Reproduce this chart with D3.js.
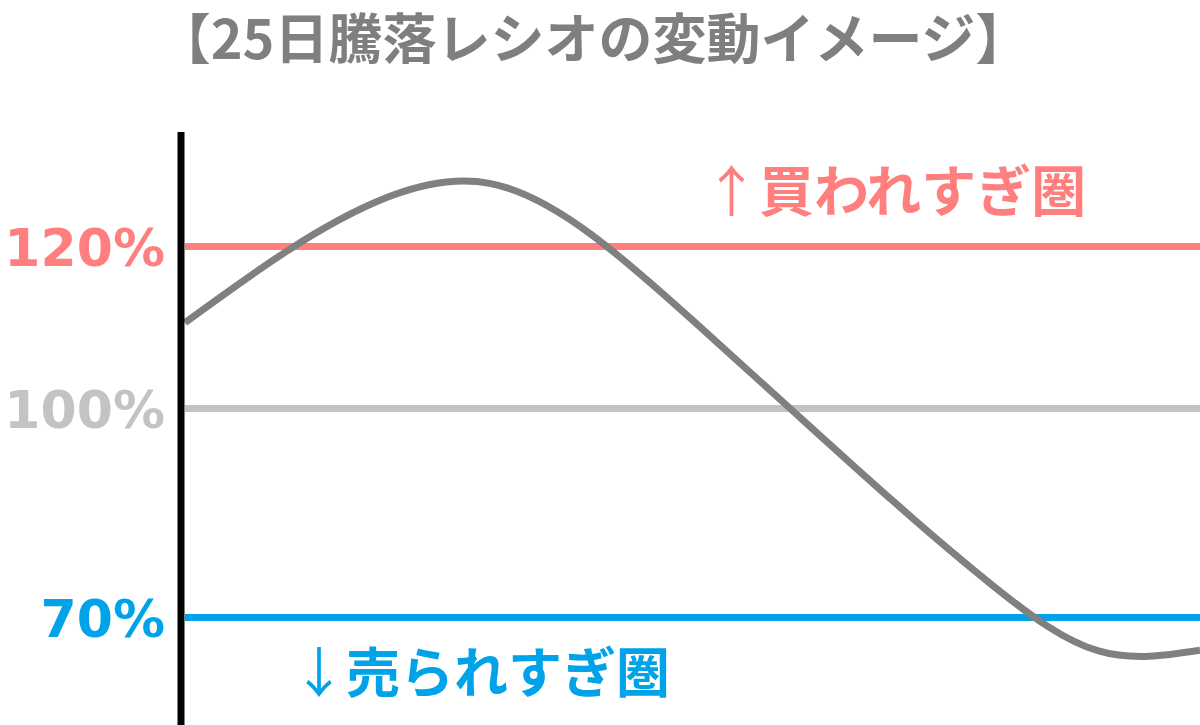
<!DOCTYPE html>
<html><head><meta charset="utf-8">
<script src="https://cdn.jsdelivr.net/npm/d3@7"></script>
<style>html,body{margin:0;padding:0;background:#fff;}svg{display:block;}</style>
</head><body>
<svg id="chart" width="1200" height="725"></svg>
<script>
// ---- data ----
const title = "【25日騰落レシオの変動イメージ】";
const levels = [120, 100, 70];
const levelLabels = ["120%", "100%", "70%"];
const levelColors = ["#FF7F7F", "#C3C3C3", "#00A3E8"];
// curve (time index 0..100, ratio %)
const curveT = [0, 10, 20, 30, 40, 50, 60, 70, 80, 90, 100];
const curveV = [110.6, 119.4, 126.1, 127.8, 121.5, 110.9, 99.5, 86.4, 74.1, 65.2, 65.3];
const zoneLabels = ["↑買われすぎ圏", "↓売られすぎ圏"];

const svg = d3.select("#chart");
const W = 1200, H = 725;
const x = d3.scaleLinear().domain([0, 100]).range([185, 1200]);
const y = d3.scaleLinear().domain([70, 100, 120]).range([617.5, 408.5, 246.5]);

const font = "'Noto Sans CJK JP', 'Noto Sans', sans-serif";

// title
svg.append("text")
  .attr("x", 593).attr("y", 59)
  .attr("text-anchor", "middle")
  .attr("font-family", font).attr("font-weight", "bold")
  .attr("font-size", 54).attr("fill", "#7F7F7F")
  .text(title);

// level lines
svg.selectAll("line.level").data(levels).join("line")
  .attr("class", "level")
  .attr("x1", x(0)).attr("x2", x(100))
  .attr("y1", d => y(d)).attr("y2", d => y(d))
  .attr("stroke", (d, i) => levelColors[i])
  .attr("stroke-width", 7);

// level labels
svg.selectAll("text.lvl").data(levels).join("text")
  .attr("class", "lvl")
  .attr("x", 165).attr("y", d => y(d) + 19)
  .attr("text-anchor", "end")
  .attr("font-family", "'DejaVu Sans', Verdana, sans-serif")
  .attr("font-weight", "bold").attr("font-size", 52)
  .attr("fill", (d, i) => levelColors[i])
  .text((d, i) => levelLabels[i]);

// curve
const pts = curveT.map((t, i) => [t, curveV[i]]);
svg.append("path")
  .datum(pts)
  .attr("fill", "none")
  .attr("stroke", "#808080")
  .attr("stroke-width", 7)
  .attr("d", d3.line().x(d => x(d[0])).y(d => y(d[1])).curve(d3.curveNatural));

// axis line
svg.append("line")
  .attr("x1", 181).attr("x2", 181)
  .attr("y1", 132).attr("y2", H)
  .attr("stroke", "#000").attr("stroke-width", 7);

// zone labels
function zone(label, xa, yb, size, color) {
  const t = svg.append("text")
    .attr("x", xa).attr("y", yb)
    .attr("font-family", font).attr("font-weight", "bold")
    .attr("font-size", size).attr("fill", color);
  t.append("tspan").attr("font-weight", "normal").text(label[0]);
  t.append("tspan").text(label.slice(1));
}
zone(zoneLabels[0], 704, 211, 55, levelColors[0]);
zone(zoneLabels[1], 292, 693, 54, levelColors[2]);
</script>
</body></html>
